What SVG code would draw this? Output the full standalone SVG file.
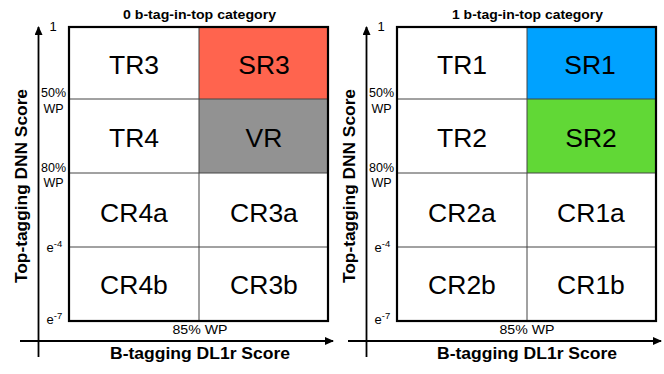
<svg xmlns="http://www.w3.org/2000/svg" width="664" height="374" viewBox="0 0 664 374">
<style>
text{font-family:"Liberation Sans",Arial,sans-serif;fill:#000}
.cell{font-size:26.5px;text-anchor:middle}
.tick{font-size:13px}
.tickc{font-size:12.5px;text-anchor:middle}
.sup{font-size:9.5px}
.title{font-size:12.5px;font-weight:bold;text-anchor:middle}
.axl{font-size:16px;font-weight:bold;text-anchor:middle}
.wp{font-size:12.5px;text-anchor:middle}
.grid{stroke:#444;stroke-width:1;fill:none}
.frame{stroke:#000;stroke-width:2.2;fill:none}
.axis{stroke:#000;stroke-width:1.8;fill:none}
</style>
<defs>
<marker id="ah" markerWidth="9" markerHeight="8" refX="8" refY="4" orient="auto" markerUnits="userSpaceOnUse">
<path d="M0,0 L9,4 L0,8 z" fill="#000"/>
</marker>
</defs>
<rect width="664" height="374" fill="#fff"/>

<!-- Left panel -->
<g id="left-panel">
<text class="title" x="199.5" y="18.5" textLength="153" lengthAdjust="spacingAndGlyphs">0 b-tag-in-top category</text>
<g id="TR3"><rect x="69" y="27" width="130" height="72" fill="#fff"/><text class="cell" x="134" y="73.5">TR3</text></g>
<g id="SR3"><rect x="199" y="27" width="129" height="72" fill="#FF644E"/><text class="cell" x="264" y="73.5">SR3</text></g>
<g id="TR4"><rect x="69" y="99" width="130" height="74" fill="#fff"/><text class="cell" x="134" y="147">TR4</text></g>
<g id="VR"><rect x="199" y="99" width="129" height="74" fill="#929292"/><text class="cell" x="264" y="147">VR</text></g>
<g id="CR4a"><text class="cell" x="134" y="221.5">CR4a</text></g>
<g id="CR3a"><text class="cell" x="264" y="221.5">CR3a</text></g>
<g id="CR4b"><text class="cell" x="134" y="294">CR4b</text></g>
<g id="CR3b"><text class="cell" x="264" y="294">CR3b</text></g>
<path class="grid" d="M69,99H328M69,173H328M69,247H328M199,27V321"/>
<rect class="frame" x="69" y="27" width="259" height="294"/>
<text class="tick" x="49.5" y="31">1</text>
<text class="tickc" x="53.5" y="96.5">50%</text>
<text class="tickc" x="53.5" y="112.5">WP</text>
<text class="tickc" x="53.5" y="171.5">80%</text>
<text class="tickc" x="53.5" y="186.5">WP</text>
<text class="tick" x="46.5" y="251.5">e<tspan class="sup" dy="-5">-4</tspan></text>
<text class="tick" x="46.5" y="323.5">e<tspan class="sup" dy="-5">-7</tspan></text>
<text class="wp" x="200" y="334" textLength="55" lengthAdjust="spacingAndGlyphs">85% WP</text>
<text class="axl" x="200" y="358.5" textLength="180" lengthAdjust="spacingAndGlyphs">B-tagging DL1r Score</text>
<text class="axl" transform="translate(26.5,186) rotate(-90)" textLength="194" lengthAdjust="spacingAndGlyphs">Top-tagging DNN Score</text>
</g>

<!-- Right panel -->
<g id="right-panel">
<text class="title" x="527.5" y="18.5" textLength="151" lengthAdjust="spacingAndGlyphs">1 b-tag-in-top category</text>
<g id="TR1"><rect x="397" y="27" width="130" height="72" fill="#fff"/><text class="cell" x="462" y="73.5">TR1</text></g>
<g id="SR1"><rect x="527" y="27" width="129" height="72" fill="#00A2FF"/><text class="cell" x="590" y="73.5">SR1</text></g>
<g id="TR2"><rect x="397" y="99" width="130" height="74" fill="#fff"/><text class="cell" x="462" y="147">TR2</text></g>
<g id="SR2"><rect x="527" y="99" width="129" height="74" fill="#61D836"/><text class="cell" x="591" y="147">SR2</text></g>
<g id="CR2a"><text class="cell" x="462" y="221.5">CR2a</text></g>
<g id="CR1a"><text class="cell" x="591" y="221.5">CR1a</text></g>
<g id="CR2b"><text class="cell" x="462" y="294">CR2b</text></g>
<g id="CR1b"><text class="cell" x="591" y="294">CR1b</text></g>
<path class="grid" d="M397,99H656M397,173H656M397,247H656M527,27V321"/>
<rect class="frame" x="397" y="27" width="259" height="294"/>
<text class="tick" x="377.5" y="31">1</text>
<text class="tickc" x="381.5" y="96.5">50%</text>
<text class="tickc" x="381.5" y="112.5">WP</text>
<text class="tickc" x="381.5" y="171.5">80%</text>
<text class="tickc" x="381.5" y="186.5">WP</text>
<text class="tick" x="374.5" y="251.5">e<tspan class="sup" dy="-5">-4</tspan></text>
<text class="tick" x="374.5" y="323.5">e<tspan class="sup" dy="-5">-7</tspan></text>
<text class="wp" x="527" y="334" textLength="55" lengthAdjust="spacingAndGlyphs">85% WP</text>
<text class="axl" x="527" y="358.5" textLength="180" lengthAdjust="spacingAndGlyphs">B-tagging DL1r Score</text>
<text class="axl" transform="translate(354.5,186) rotate(-90)" textLength="194" lengthAdjust="spacingAndGlyphs">Top-tagging DNN Score</text>
</g>

<g id="connectors">
<line class="axis" x1="38.5" y1="357" x2="38.5" y2="27" marker-end="url(#ah)"/>
<line class="axis" x1="20" y1="341" x2="333" y2="341" marker-end="url(#ah)"/>
<line class="axis" x1="366.5" y1="357" x2="366.5" y2="27" marker-end="url(#ah)"/>
<line class="axis" x1="348" y1="341" x2="661" y2="341" marker-end="url(#ah)"/>
</g>
</svg>
